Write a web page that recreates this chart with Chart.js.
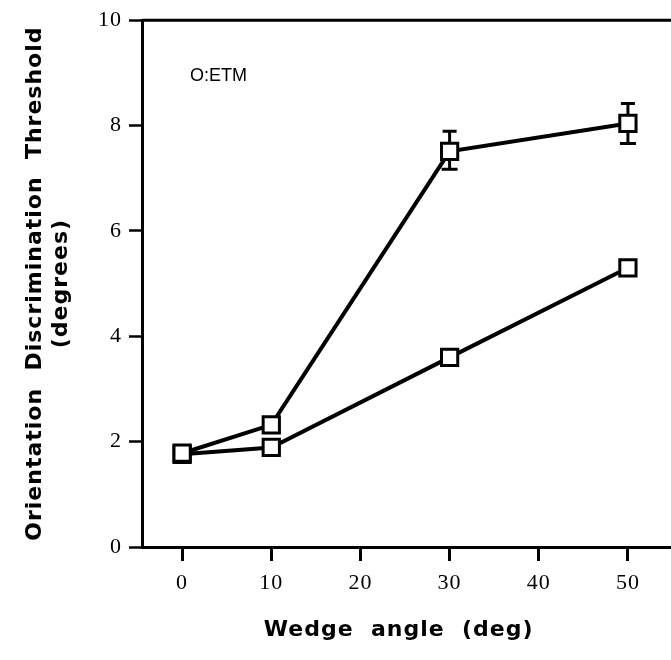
<!DOCTYPE html>
<html>
<head>
<meta charset="utf-8">
<script src="https://cdn.jsdelivr.net/npm/chart.js@4/dist/chart.umd.min.js"></script>
<style>
  html, body { margin: 0; padding: 0; background: #fff; overflow: hidden; }
  /* a bit wider than the window: the scanned plot runs off the right edge */
  #wrap { width: 687px; height: 660px; position: relative; }
  canvas { display: block; }
</style>
</head>
<body>
<div id="wrap"><canvas id="chart"></canvas></div>
<script>
// wedge angle (deg)
const wedgeAngles = [0, 10, 30, 50];
// thresholds (deg)
const upperSeries = [1.78, 2.32, 7.51, 8.04];
const lowerSeries = [1.76, 1.89, 3.6, 5.3];
// error bars on the upper series (top / bottom of bar)
const upperErrHigh = [null, null, 7.89, 8.42];
const upperErrLow = [null, null, 7.17, 7.66];

const xTicks = [0, 10, 20, 30, 40, 50];
const yTicks = [0, 2, 4, 6, 8, 10];
const observerLabel = 'O:ETM';

function toPoints(values) {
    return wedgeAngles.map((x, i) => ({ x: x, y: values[i] }));
}

const serifFont = { family: "'Liberation Serif', 'Times New Roman', serif", size: 22 };
const boldSans = { family: "'DejaVu Sans', Arial, Helvetica, sans-serif", size: 22, weight: 'bold', lineHeight: 1.15 };

const spacingPlugin = {
    id: 'spacing',
    beforeDraw(chart) {
        chart.ctx.letterSpacing = '1px';
    }
};

const framePlugin = {
    id: 'frame',
    afterDraw(chart) {
        const { ctx, chartArea } = chart;
        ctx.save();
        ctx.letterSpacing = '0px';
        // top border
        ctx.strokeStyle = '#000';
        ctx.lineWidth = 3;
        ctx.beginPath();
        ctx.moveTo(chartArea.left, chartArea.top);
        ctx.lineTo(chartArea.right + 2, chartArea.top);
        ctx.stroke();
        // faint right border
        ctx.strokeStyle = '#d8d8d8';
        ctx.lineWidth = 1;
        ctx.beginPath();
        ctx.moveTo(chartArea.right - 0.5, chartArea.top);
        ctx.lineTo(chartArea.right - 0.5, chartArea.bottom);
        ctx.stroke();
        // observer label
        ctx.fillStyle = '#000';
        ctx.font = "18px 'Liberation Sans', Arial, sans-serif";
        ctx.textBaseline = 'middle';
        ctx.fillText(observerLabel, chartArea.left + 48, chartArea.top + 56);
        ctx.restore();
    }
};

const errorBarPlugin = {
    id: 'errorBars',
    beforeDatasetsDraw(chart) {
        const { ctx, scales } = chart;
        ctx.save();
        ctx.strokeStyle = '#000';
        ctx.lineWidth = 3;
        wedgeAngles.forEach((x, i) => {
            if (upperErrHigh[i] == null) return;
            const px = scales.x.getPixelForValue(x);
            const top = scales.y.getPixelForValue(upperErrHigh[i]);
            const bot = scales.y.getPixelForValue(upperErrLow[i]);
            ctx.beginPath();
            ctx.moveTo(px, top);
            ctx.lineTo(px, bot);
            ctx.moveTo(px - 7, top);
            ctx.lineTo(px + 7, top);
            ctx.moveTo(px - 8, bot);
            ctx.lineTo(px + 8, bot);
            ctx.stroke();
        });
        ctx.restore();
    }
};

const seriesStyle = {
    borderColor: '#000',
    borderWidth: 4,
    pointStyle: 'rect',
    pointRadius: 11.5,
    pointBorderWidth: 3,
    pointBackgroundColor: '#fff',
    pointBorderColor: '#000',
    tension: 0,
    fill: false
};

new Chart(document.getElementById('chart'), {
    type: 'line',
    data: {
        datasets: [
            Object.assign({ label: 'upper', data: toPoints(upperSeries) }, seriesStyle),
            Object.assign({ label: 'lower', data: toPoints(lowerSeries) }, seriesStyle)
        ]
    },
    options: {
        responsive: true,
        maintainAspectRatio: false,
        animation: false,
        layout: { padding: { top: 17, right: 0, bottom: 0, left: 0 } },
        plugins: {
            legend: { display: false },
            tooltip: { enabled: false }
        },
        scales: {
            x: {
                type: 'linear',
                min: -4.5,
                max: 55,
                afterBuildTicks(scale) {
                    scale.ticks = xTicks.map(v => ({ value: v }));
                },
                afterFit(scale) {
                    scale.height = 113;
                    scale.paddingLeft = 0;
                    scale.paddingRight = 0;
                },
                border: { display: true, color: '#000', width: 3 },
                grid: { drawOnChartArea: false, drawTicks: true, tickLength: 14, tickWidth: 3, tickColor: '#000' },
                ticks: { color: '#000', font: serifFont, padding: 9, maxRotation: 0 },
                title: {
                    display: true,
                    // trailing spaces nudge the centred title left, under the visible part of the axis
                    text: 'Wedge  angle  (deg)  ',
                    color: '#000',
                    font: boldSans,
                    padding: { top: 0, bottom: 17 }
                }
            },
            y: {
                type: 'linear',
                min: 0,
                max: 10,
                afterBuildTicks(scale) {
                    scale.ticks = yTicks.map(v => ({ value: v }));
                },
                afterFit(scale) {
                    scale.width = 142;
                },
                border: { display: true, color: '#000', width: 3 },
                grid: { drawOnChartArea: false, drawTicks: true, tickLength: 13, tickWidth: 2.5, tickColor: '#000' },
                ticks: { color: '#000', font: serifFont, padding: 7 },
                title: {
                    display: true,
                    text: ['Orientation  Discrimination  Threshold', '(degrees)'],
                    color: '#000',
                    font: boldSans,
                    padding: { top: 23, bottom: 0 }
                }
            }
        }
    },
    plugins: [spacingPlugin, errorBarPlugin, framePlugin]
});
</script>
</body>
</html>
